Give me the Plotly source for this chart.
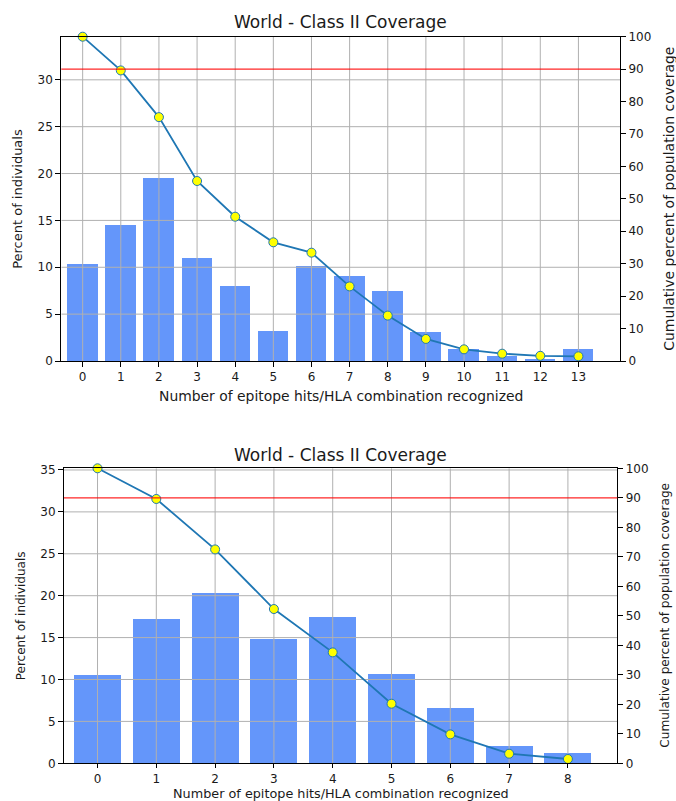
import plotly.graph_objects as go

# ---------------- data ----------------
categories_top = list(range(14))
percent_top = [10.35, 14.55, 19.56, 11.03, 8.0, 3.27, 10.21, 9.1, 7.47, 3.17, 1.35, 0.6, 0.25, 1.35]
cumulative_top = [100, 89.6, 75.2, 55.5, 44.5, 36.6, 33.4, 23.0, 14.0, 6.8, 3.6, 2.25, 1.6, 1.45]

categories_bottom = list(range(9))
percent_bottom = [10.45, 17.18, 20.29, 14.8, 17.38, 10.57, 6.56, 1.98, 1.19]
cumulative_bottom = [100, 89.6, 72.5, 52.3, 37.6, 20.2, 9.8, 3.25, 1.46]

threshold = 90
chart_title = "World - Class II Coverage"
x_label = "Number of epitope hits/HLA combination recognized"
y_label_left = "Percent of individuals"
y_label_right = "Cumulative percent of population coverage"
left_ticks_top = [0, 5, 10, 15, 20, 25, 30]
left_ticks_bottom = [0, 5, 10, 15, 20, 25, 30, 35]
right_ticks = [0, 10, 20, 30, 40, 50, 60, 70, 80, 90, 100]

# ---------------- layout constants ----------------
W, H = 676, 801
FONT = "DejaVu Sans"
BAR_COLOR = "rgb(100,150,250)"
LINE_COLOR = "#1f77b4"
GRID_COLOR = "#b0b0b0"
TXT = "#1a1a1a"

def px_x(p):
    return p / W

def px_y(p):
    return 1 - p / H

top_box = dict(l=61.3, r=620.0, t=36.7, b=361.0, xr=[-0.56, 14.09], yr=[0, 34.6], xtl=5)
bot_box = dict(l=64.0, r=617.3, t=468.3, b=763.3, xr=[-0.57, 8.84], yr=[0, 35.2], xtl=4)

fig = go.Figure()


def grid_trace(cats, lticks, xr, yr, xa, ya):
    xs, ys = [], []
    for c in cats:
        xs += [c, c, None]
        ys += [yr[0], yr[1], None]
    for t in lticks:
        if t == 0:
            continue
        xs += [xr[0], xr[1], None]
        ys += [t, t, None]
    return go.Scatter(x=xs, y=ys, mode="lines", xaxis=xa, yaxis=ya,
                      line=dict(color=GRID_COLOR, width=1), hoverinfo="skip",
                      showlegend=False)


def add_panel(cats, perc, cum, lticks, box, xa, ya, ya2):
    fig.add_trace(go.Bar(x=cats, y=perc, xaxis=xa, yaxis=ya, width=0.8,
                         marker=dict(color=BAR_COLOR, line=dict(width=0)),
                         showlegend=False))
    fig.add_trace(grid_trace(cats, lticks, box["xr"], box["yr"], xa, ya))
    fig.add_trace(go.Scatter(x=cats, y=cum, xaxis=xa, yaxis=ya2, mode="lines+markers",
                             line=dict(color=LINE_COLOR, width=1.8),
                             marker=dict(color="yellow", size=9,
                                         line=dict(color=LINE_COLOR, width=1)),
                             showlegend=False, cliponaxis=False))


add_panel(categories_top, percent_top, cumulative_top, left_ticks_top, top_box, "x", "y", "y2")
add_panel(categories_bottom, percent_bottom, cumulative_bottom, left_ticks_bottom, bot_box, "x2", "y3", "y4")

tickfont = dict(family=FONT, size=12, color=TXT)
common = dict(showgrid=False, zeroline=False, showline=True, linecolor="black", linewidth=1,
              ticks="outside", tickwidth=1, tickcolor="black", tickfont=tickfont,
              automargin=False)


def axes(box, cats, lticks, xa, ya, ya2):
    xdom = [px_x(box["l"]), px_x(box["r"])]
    ydom = [px_y(box["b"]), px_y(box["t"])]
    xa_name = "xaxis" if xa == "x" else "xaxis" + xa[1:]
    ya_name = "yaxis" if ya == "y" else "yaxis" + ya[1:]
    ya2_name = "yaxis" + ya2[1:]
    return {
        xa_name: dict(domain=xdom, anchor=ya, range=box["xr"], tickvals=cats,
                      ticktext=[str(c) for c in cats], mirror=True, ticklen=box["xtl"],
                      **common),
        ya_name: dict(domain=ydom, anchor=xa, range=box["yr"], tickvals=lticks, ticklen=5,
                      **common),
        ya2_name: dict(overlaying=ya, side="right", anchor=xa, range=[0, 100],
                       tickvals=right_ticks, ticklen=5, **common),
    }


lay = {}
lay.update(axes(top_box, categories_top, left_ticks_top, "x", "y", "y2"))
lay.update(axes(bot_box, categories_bottom, left_ticks_bottom, "x2", "y3", "y4"))

shapes = []
for xa, ya2 in (("x", "y2"), ("x2", "y4")):
    shapes.append(dict(type="line", xref=xa + " domain", yref=ya2, x0=0, x1=1,
                       y0=threshold, y1=threshold, layer="above",
                       line=dict(color="rgba(255,0,0,0.85)", width=1.3)))

annotations = []


def ann(text, x, y, size, angle=0):
    annotations.append(dict(text=text, x=px_x(x), y=px_y(y), xref="paper", yref="paper",
                            showarrow=False, xanchor="center", yanchor="middle",
                            textangle=angle, borderpad=0,
                            font=dict(family=FONT, size=size, color=TXT)))


for box, title_y, xl_y, xl_f, yl_x, yr_x, fl, fr in (
        (top_box, 22, 395.5, 13.9, 18, 669, 13, 14),
        (bot_box, 455, 793.3, 12.8, 20.5, 665, 12, 12.2)):
    cx = (box["l"] + box["r"]) / 2
    cy = (box["t"] + box["b"]) / 2
    ann(chart_title, cx, title_y, 17)
    ann(x_label, cx, xl_y, xl_f)
    ann(y_label_left, yl_x, cy, fl, -90)
    ann(y_label_right, yr_x, cy, fr, -90)

fig.update_layout(width=W, height=H, autosize=False,
                  margin=dict(l=0, r=0, t=0, b=0, pad=0, autoexpand=False),
                  paper_bgcolor="white", plot_bgcolor="white",
                  showlegend=False, bargap=0, shapes=shapes, annotations=annotations,
                  font=dict(family=FONT), **lay)

fig.write_html("out.html")
